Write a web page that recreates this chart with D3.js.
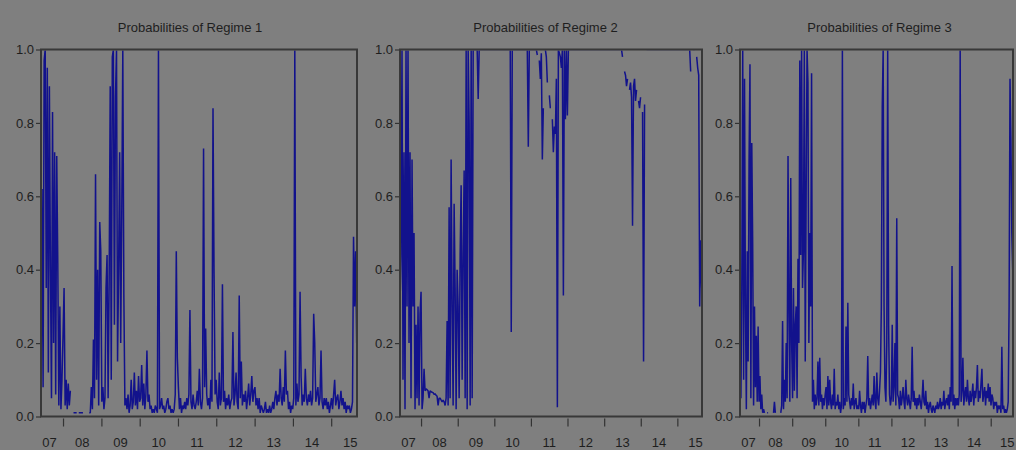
<!DOCTYPE html>
<html>
<head>
<meta charset="utf-8">
<script src="https://cdn.jsdelivr.net/npm/d3@7"></script>
<style>
  html, body { margin: 0; padding: 0; background: #7f7f7f; }
  svg { display: block; }
  text { font-family: "Liberation Sans", Arial, sans-serif; fill: #1e1e1e; }
</style>
</head>
<body>
<svg id="chart" width="1016" height="450"></svg>
<script>
// Smoothed regime probabilities, one observation every 10 days from 5 Jun 2007.
// null marks missing observations (the line breaks there).
const regimeTitles = ["Probabilities of Regime 1", "Probabilities of Regime 2", "Probabilities of Regime 3"];
const yTicks = [0, 0.2, 0.4, 0.6, 0.8, 1.0];
const yearTicks = [2008, 2009, 2010, 2011, 2012, 2013, 2014, 2015];
const yearLabels = [2007, 2008, 2009, 2010, 2011, 2012, 2013, 2014, 2015];

const regime1 = [
  // 2007
  0.05,0.62,0.08,0.97,1.00,0.35,0.95,0.12,0.90,0.40,0.05,0.83,0.20,0.72,0.06,0.71,0.42,0.03,0.30,0.02,0.10,
  // 2008
  0.22,0.35,0.03,0.10,0.02,0.09,0.03,0.07,null,null,0.01,0.01,0.01,0.01,null,0.01,0.01,0.01,0.01,0.01,
  null,null,null,null,null,0.01,0.01,0.08,0.02,0.21,0.05,0.66,0.10,0.40,0.03,0.53,0.45,
  // 2009
  0.04,0.08,0.02,0.05,0.35,0.44,0.05,0.38,0.90,0.10,0.98,1.00,0.25,0.87,1.00,0.15,0.40,0.72,0.20,0.55,
  1.00,0.33,0.03,0.05,0.02,0.06,0.01,0.03,0.10,0.02,0.04,0.12,0.03,0.07,0.02,0.11,0.04,
  // 2010
  0.05,0.14,0.03,0.09,0.02,0.06,0.18,0.04,0.06,0.02,0.03,0.01,0.02,0.01,0.03,0.02,0.01,1.00,
  0.02,0.03,0.05,0.02,0.03,0.01,0.02,0.04,0.05,0.02,0.03,0.01,0.02,0.01,0.02,0.06,0.45,0.16,
  // 2011
  0.08,0.02,0.05,0.01,0.03,0.02,0.04,0.02,0.05,0.03,0.06,0.29,0.04,0.02,0.06,0.03,0.02,0.04,0.07,
  0.03,0.13,0.04,0.02,0.05,0.73,0.08,0.24,0.06,0.03,0.05,0.02,0.10,0.04,0.84,0.39,0.06,0.10,
  // 2012
  0.04,0.02,0.12,0.03,0.05,0.36,0.04,0.07,0.02,0.05,0.03,0.06,0.02,0.04,0.05,0.23,0.03,0.06,
  0.12,0.04,0.02,0.33,0.05,0.15,0.03,0.06,0.04,0.07,0.02,0.05,0.09,0.03,0.06,0.11,0.04,0.07,
  // 2013
  0.08,0.03,0.05,0.02,0.05,0.01,0.03,0.02,0.01,0.02,0.04,0.01,0.02,0.01,0.03,0.01,0.02,0.04,0.02,
  0.05,0.07,0.03,0.06,0.04,0.13,0.05,0.03,0.08,0.04,0.18,0.06,0.07,0.02,0.04,0.01,0.03,0.02,
  // 2014
  0.05,1.00,0.03,0.09,0.04,0.06,0.34,0.11,0.03,0.06,0.04,0.13,0.05,0.03,0.06,0.04,0.07,0.03,
  0.05,0.28,0.20,0.04,0.06,0.08,0.03,0.05,0.18,0.04,0.02,0.05,0.03,0.05,0.02,0.04,0.01,0.03,
  // 2015
  0.05,0.02,0.06,0.10,0.03,0.05,0.06,0.02,0.04,0.07,0.03,0.05,0.02,0.04,0.01,0.03,0.02,0.03,
  0.01,0.02,0.04,0.49,0.30,0.45,0.20
];

const regime2 = [
  // 2007
  0.30,0.44,1.00,0.10,0.72,0.02,1.00,0.30,1.00,0.20,0.72,0.05,0.70,0.30,0.50,0.02,0.25,0.05,0.30,0.03,0.28,
  // 2008
  0.34,0.02,0.05,0.13,0.07,0.075,0.073,0.07,0.05,0.07,0.068,0.066,0.065,0.06,0.062,0.058,0.055,0.03,0.05,
  0.05,0.045,0.04,0.045,0.04,0.03,0.05,0.26,0.03,0.57,0.05,0.70,0.30,0.03,0.58,0.35,0.02,0.40,
  // 2009
  0.30,0.05,0.44,0.63,0.10,0.44,0.67,0.05,1.00,0.02,1.00,0.80,0.03,1.00,0.05,1.00,1.00,1.00,1.00,1.00,0.865,
  1.00,1.00,1.00,1.00,1.00,1.00,1.00,1.00,1.00,1.00,1.00,1.00,1.00,1.00,1.00,1.00,
  // 2010
  1.00,1.00,1.00,1.00,1.00,1.00,1.00,1.00,1.00,1.00,1.00,1.00,1.00,1.00,1.00,1.00,0.23,1.00,
  1.00,1.00,1.00,1.00,1.00,1.00,1.00,1.00,1.00,1.00,1.00,1.00,1.00,1.00,1.00,0.735,1.00,1.00,
  // 2011
  1.00,1.00,1.00,1.00,1.00,1.00,0.985,null,0.97,0.92,0.99,0.70,0.84,null,1.00,0.98,0.91,null,0.875,
  0.84,null,0.81,0.72,0.79,0.77,0.92,0.025,1.00,0.99,0.98,0.95,1.00,0.33,1.00,0.81,1.00,0.82,
  // 2012
  1.00,1.00,1.00,1.00,1.00,1.00,1.00,1.00,1.00,1.00,1.00,1.00,1.00,1.00,1.00,1.00,1.00,1.00,
  1.00,1.00,1.00,1.00,1.00,1.00,1.00,1.00,1.00,1.00,1.00,1.00,1.00,1.00,1.00,1.00,1.00,1.00,
  // 2013
  1.00,1.00,1.00,1.00,1.00,1.00,1.00,1.00,1.00,1.00,1.00,1.00,1.00,1.00,1.00,1.00,1.00,1.00,0.98,
  null,0.94,0.93,0.90,0.92,null,0.89,0.91,0.87,0.52,0.90,0.92,0.86,0.89,null,0.86,0.84,0.87,
  // 2014
  null,0.83,0.15,0.85,null,1.00,1.00,1.00,1.00,1.00,1.00,1.00,1.00,1.00,1.00,1.00,1.00,1.00,
  1.00,1.00,1.00,1.00,1.00,1.00,1.00,1.00,1.00,1.00,1.00,1.00,1.00,1.00,1.00,1.00,1.00,1.00,
  // 2015
  1.00,1.00,1.00,1.00,1.00,1.00,1.00,1.00,1.00,1.00,1.00,1.00,1.00,0.94,null,1.00,1.00,1.00,
  null,0.98,0.95,0.93,0.30,0.48,0.35
];

const regime3 = [
  // 2007
  0.20,0.05,0.35,1.00,0.10,0.92,0.30,0.02,0.45,0.15,0.70,0.96,0.05,0.745,0.47,0.03,0.30,0.08,0.22,0.04,0.245,
  // 2008
  0.04,0.11,0.02,0.06,0.01,0.02,0.01,null,null,0.01,0.01,null,null,null,null,null,0.01,0.04,0.01,
  null,null,null,null,null,0.01,0.03,0.26,0.02,0.10,0.04,0.20,0.05,0.71,0.30,0.04,0.65,0.20,
  // 2009
  0.05,0.35,0.07,0.25,0.30,0.05,0.43,0.20,0.97,0.44,1.00,0.35,0.45,1.00,0.15,0.60,1.00,0.91,0.20,
  0.50,0.30,0.935,0.04,0.10,0.02,0.06,0.03,0.05,0.15,0.03,0.16,0.04,0.06,0.02,0.05,0.03,0.06,
  // 2010
  0.08,0.02,0.11,0.03,0.10,0.04,0.02,0.06,0.03,0.13,0.02,0.04,0.03,0.06,0.02,0.04,0.01,0.03,
  1.00,0.02,0.05,0.03,0.245,0.04,0.31,0.06,0.04,0.02,0.05,0.03,0.09,0.02,0.04,0.05,0.02,0.03,
  // 2011
  0.02,0.07,0.03,0.01,0.04,0.02,0.04,0.01,0.03,0.05,0.165,0.03,0.05,0.02,0.04,0.06,0.03,0.11,0.04,
  0.02,0.12,0.05,0.03,0.07,0.12,0.30,0.843,1.00,0.30,0.08,0.04,0.20,1.00,0.25,0.06,0.03,0.05,
  // 2012
  0.25,0.04,0.08,0.20,0.03,0.54,0.06,0.05,0.02,0.07,0.03,0.05,0.08,0.04,0.02,0.10,0.05,0.03,
  0.06,0.04,0.02,0.05,0.19,0.04,0.07,0.03,0.05,0.02,0.05,0.03,0.06,0.04,0.02,0.05,0.10,0.04,
  // 2013
  0.03,0.07,0.02,0.04,0.01,0.03,0.04,0.02,0.01,0.03,0.02,0.01,0.03,0.02,0.04,0.02,0.03,0.05,0.02,
  0.04,0.03,0.07,0.02,0.04,0.05,0.03,0.06,0.02,0.08,0.04,0.41,0.03,0.06,0.02,0.05,0.03,0.05,
  // 2014
  0.03,0.06,1.00,0.04,0.07,0.16,0.03,0.06,0.08,0.04,0.10,0.05,0.03,0.07,0.04,0.06,0.09,0.03,
  0.07,0.05,0.08,0.14,0.04,0.07,0.05,0.09,0.13,0.04,0.06,0.08,0.03,0.07,0.05,0.09,0.04,0.08,
  // 2015
  0.03,0.06,0.05,0.02,0.04,0.03,0.04,0.01,0.03,0.02,0.03,0.01,0.19,0.02,0.03,0.01,0.02,0.01,
  0.02,0.04,0.30,0.92,0.75,0.50,0.40
];

const series = [regime1, regime2, regime3];
const startDate = new Date(2007, 5, 5);
const endDate = new Date(2015, 8, 4);
const stepDays = 10;

// Plot rectangles for the three side-by-side panels
const panels = [
  { left: 41,  right: 357,  title: 190 },
  { left: 400, right: 702,  title: 545.5 },
  { left: 740, right: 1013, title: 879.5 }
];
const plotTop = 49.5, plotBottom = 416.5;

const svg = d3.select("#chart");
const y = d3.scaleLinear().domain([0, 1]).range([plotBottom, plotTop]);

panels.forEach((p, k) => {
  const values = series[k];
  const x = d3.scaleTime().domain([startDate, endDate]).range([p.left, p.right]);
  const pts = values.map((v, i) => ({ date: d3.timeDay.offset(startDate, i * stepDays), v }));
  const g = svg.append("g");

  // Clip just inside the frame so values sitting at 1.0 stay under the border
  const clipId = "clip" + k;
  svg.append("clipPath").attr("id", clipId)
    .append("rect")
    .attr("x", p.left).attr("y", plotTop + 1)
    .attr("width", p.right - p.left).attr("height", plotBottom - plotTop - 1);

  // Title
  g.append("text")
    .attr("x", p.title).attr("y", 32)
    .attr("text-anchor", "middle")
    .style("font-size", "13px")
    .text(regimeTitles[k]);

  // Probability line
  const line = d3.line()
    .defined(d => d.v !== null)
    .x(d => x(d.date))
    .y(d => y(d.v));
  g.append("path")
    .datum(pts)
    .attr("clip-path", `url(#${clipId})`)
    .attr("fill", "none")
    .attr("stroke", "#12128c")
    .attr("stroke-width", 1.5)
    .attr("stroke-linejoin", "bevel")
    .attr("d", line);

  // Y axis
  const yAxis = d3.axisLeft(y).tickValues(yTicks).tickFormat(d3.format(".1f"))
    .tickSize(5).tickPadding(2);
  const ya = g.append("g").attr("transform", `translate(${p.left},0)`).call(yAxis);
  ya.select(".domain").remove();
  ya.selectAll("line").attr("stroke", "#333").attr("stroke-width", 1.2);
  ya.selectAll("text").style("font-size", "13px").style("font-family", "'Liberation Sans', Arial, sans-serif").attr("fill", "#1e1e1e");

  // X axis: year boundary ticks below the frame
  const xAxis = d3.axisBottom(x)
    .tickValues(yearTicks.map(yr => new Date(yr, 0, 1)))
    .tickFormat("").tickSize(8).tickSizeOuter(0);
  const xa = g.append("g").attr("transform", `translate(0,${plotBottom + 2})`).call(xAxis);
  xa.select(".domain").remove();
  xa.selectAll("line").attr("stroke", "#333").attr("stroke-width", 1.2);

  // Year labels centred on each year, kept inside the frame on the left
  g.append("g").selectAll("text")
    .data(yearLabels)
    .join("text")
    .attr("text-anchor", "middle")
    .attr("y", 447)
    .style("font-size", "13px")
    .text(yr => d3.timeFormat("%y")(new Date(yr, 0, 1)))
    .attr("x", yr => {
      const mid = x(new Date(yr, 6, 2));
      return Math.max(mid, p.left + 8.5);
    });

  // Frame
  g.append("rect")
    .attr("x", p.left).attr("y", plotTop)
    .attr("width", p.right - p.left).attr("height", plotBottom - plotTop)
    .attr("fill", "none")
    .attr("stroke", "#383838")
    .attr("stroke-width", 2);
});
</script>
</body>
</html>
